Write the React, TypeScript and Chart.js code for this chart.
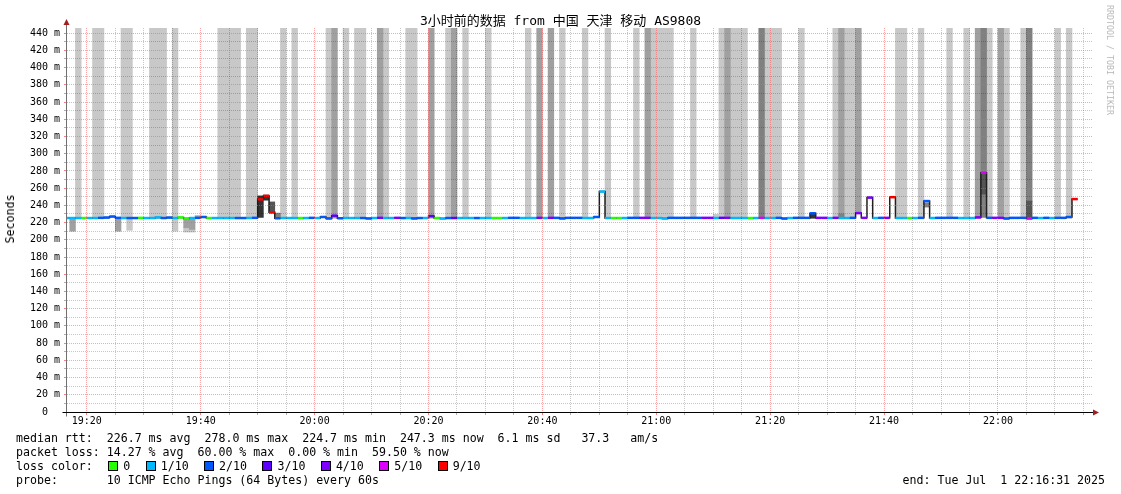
import React, { useEffect, useRef } from 'react';
import { Chart, registerables } from 'chart.js';

Chart.register(...registerables);

const FONT = "'DejaVu Sans Mono', 'Noto Sans CJK SC', monospace";

// ---------- text ----------
const titleText = '3小时前的数据 from 中国 天津 移动 AS9808';
const yAxisTitle = 'Seconds';
const sideNote = 'RRDTOOL / TOBI OETIKER';
const statsLines = [
  'median rtt:  226.7 ms avg  278.0 ms max  224.7 ms min  247.3 ms now  6.1 ms sd   37.3   am/s',
  'packet loss: 14.27 % avg  60.00 % max  0.00 % min  59.50 % now',
];
const lossLegendTitle = 'loss color:  ';
const probeLine = 'probe:       10 ICMP Echo Pings (64 Bytes) every 60s';
const endLine = 'end: Tue Jul  1 22:16:31 2025';

// ---------- axes (minutes after 19:00) ----------
const axisStart = 16 + 31 / 60; // 19:16:31
const axisEnd = axisStart + 180; // 22:16:31
const xTickMinutes = [20, 25, 30, 35, 40, 45, 50, 55, 60, 65, 70, 75, 80, 85, 90, 95, 100, 105, 110, 115, 120, 125, 130, 135, 140, 145, 150, 155, 160, 165, 170, 175, 180, 185, 190, 195];
const yTickValues = [0, 10, 20, 30, 40, 50, 60, 70, 80, 90, 100, 110, 120, 130, 140, 150, 160, 170, 180, 190, 200, 210, 220, 230, 240, 250, 260, 270, 280, 290, 300, 310, 320, 330, 340, 350, 360, 370, 380, 390, 400, 410, 420, 430, 440];
const yMax = 446;

// ---------- median rtt per minute slot (slot 16 = 19:16) ----------
const firstSlot = 16;
const medianMs = [
  225.3, 225.3, 225.3, 225.3, 225.3, 225.3, 225.5, 225.8, 227.0, 225.5,
  225.3, 225.3, 225.3, 225.5, 225.3, 225.3, 226.0, 225.3, 225.8, 225.3,
  226.0, 224.7, 225.3, 225.5, 226.5, 225.3, 225.3, 225.3, 225.3, 225.3,
  225.3, 225.3, 225.3, 225.5, 247.0, 251.0, 232.0, 225.0, 225.3, 225.3,
  225.3, 225.3, 225.3, 225.5, 225.3, 226.5, 224.8, 228.0, 225.0, 225.3,
  225.3, 225.3, 225.3, 224.8, 225.3, 225.5, 225.3, 225.3, 225.5, 225.3,
  225.3, 224.8, 225.3, 225.3, 227.5, 225.3, 224.7, 225.3, 225.3, 225.3,
  225.3, 225.3, 225.3, 225.3, 225.3, 225.3, 225.3, 225.3, 225.5, 225.5,
  225.3, 225.3, 225.3, 225.5, 225.3, 225.5, 225.5, 224.8, 225.5, 225.5,
  225.5, 225.3, 225.3, 226.5, 256.0, 225.3, 225.3, 225.3, 225.3, 225.5,
  225.5, 225.5, 225.5, 225.3, 225.3, 224.7, 225.5, 225.5, 225.5, 225.5,
  225.5, 225.5, 225.5, 225.5, 225.3, 225.5, 225.5, 225.3, 225.3, 225.3,
  225.3, 225.3, 225.5, 225.3, 225.3, 225.5, 224.7, 225.3, 225.5, 225.5,
  225.5, 230.8, 225.5, 225.5, 225.3, 225.5, 225.3, 225.3, 225.5, 231.0,
  225.5, 249.0, 225.3, 225.5, 225.5, 249.5, 225.3, 225.3, 225.3, 225.3,
  225.5, 245.0, 225.3, 225.5, 225.5, 225.5, 225.5, 225.3, 225.3, 225.3,
  226.0, 278.0, 225.5, 225.5, 225.5, 224.7, 225.5, 225.5, 225.5, 224.7,
  225.5, 225.3, 225.5, 225.3, 225.5, 225.5, 226.5, 247.3,
];
// lost pings out of 10 for each slot
const lossTenths = [
  1, 1, 1, 0, 1, 1, 2, 2, 2, 2,
  1, 2, 2, 0, 1, 1, 1, 2, 2, 1,
  0, 0, 1, 2, 2, 0, 1, 1, 1, 1,
  2, 2, 1, 2, 9, 9, 9, 2, 1, 1,
  1, 0, 1, 2, 1, 2, 2, 3, 2, 1,
  1, 1, 2, 2, 1, 4, 1, 1, 4, 2,
  1, 2, 2, 1, 3, 0, 1, 2, 3, 1,
  1, 1, 2, 1, 1, 0, 0, 1, 2, 2,
  1, 1, 1, 4, 1, 4, 2, 2, 2, 2,
  2, 1, 1, 2, 1, 1, 0, 0, 1, 2,
  2, 4, 4, 1, 1, 1, 2, 2, 2, 2,
  2, 2, 4, 4, 1, 3, 4, 1, 1, 1,
  0, 1, 5, 1, 1, 2, 2, 1, 2, 2,
  2, 2, 4, 4, 1, 4, 1, 1, 2, 4,
  4, 4, 1, 2, 4, 9, 1, 1, 0, 1,
  2, 2, 1, 2, 2, 2, 2, 1, 1, 1,
  4, 5, 2, 4, 4, 2, 2, 2, 2, 5,
  2, 1, 2, 1, 2, 2, 2, 9,
];

// ---------- smoke ----------
// tall smoke: pings beyond the top of the graph
const smokeCeiling = 460;
const tallSmokeSlots = [18, 21, 22, 26, 27, 31, 32, 33, 35, 43, 44, 45, 46, 48, 49, 54, 56, 62, 63, 65, 67, 68, 71, 72, 76, 77, 80, 83, 84, 86, 90, 97, 99, 101, 103, 107, 111, 116, 118, 119, 120, 121, 122, 126, 131, 132, 133, 134, 135, 138, 139, 140, 141, 145, 151, 152, 153, 154, 155, 162, 163, 166, 171, 174, 176, 177, 178, 180, 181, 184, 185, 190, 192];
const tallSmokeFrom = [225, 225, 225, 225, 225, 225, 225, 225, 225, 225, 225, 225, 225, 225, 225, 225, 225, 225, 225, 225, 225, 225, 225, 225, 225, 225, 225, 225, 225, 225, 225, 225, 225, 225, 225, 225, 225, 225, 225, 225, 225, 225, 225, 225, 225, 225, 225, 225, 225, 225, 225, 225, 225, 225, 225, 230, 225, 225, 231, 225, 225, 225, 225, 225, 226, 278, 225, 225, 225, 225, 245, 225, 225];
const tallSmokeShade = [1, 1, 1, 1, 1, 1, 1, 1, 1, 1, 1, 1, 1, 1, 1, 1, 1, 1, 2, 1, 1, 1, 2, 1, 1, 1, 2, 1, 2, 1, 1, 1, 2, 2, 1, 1, 1, 1, 2, 1, 1, 1, 1, 1, 1, 2, 1, 1, 1, 3, 1, 1, 1, 1, 1, 2, 1, 1, 2, 1, 1, 1, 1, 1, 2, 3, 1, 2, 1, 1, 3, 1, 1];
// band smoke: pings spread around the median
const bandSmokeSlots = [17, 25, 27, 35, 37, 37, 38, 38, 39, 50, 51, 52, 53, 130, 147, 152, 167, 177, 177, 185];
const bandSmokeLow = [210, 210, 211, 210, 209, 214, 209, 212, 225, 226, 246, 231, 225, 225, 225, 225, 238, 226, 253, 226];
const bandSmokeHigh = [225, 225, 225, 225, 214, 225, 212, 225, 228, 251, 252, 244, 231, 229.5, 230, 230, 243, 253, 278, 245];
const bandSmokeShade = [2, 2, 1, 1, 1, 2, 1, 2, 2, 5, 5, 4, 3, 1, 5, 3, 3, 3, 4, 4];

const shadeColors = ['', '#c8c8c8', '#a0a0a0', '#808080', '#555555', '#333333'];

// ---------- loss colours ----------
const lossLevels = [0, 1, 2, 3, 4, 5, 9];
const lossLabels = ['0', '1/10', '2/10', '3/10', '4/10', '5/10', '9/10'];
const lossPalette = ['#26ff00', '#00b8ff', '#0059ff', '#5e00ff', '#7e00ff', '#dd00ff', '#ff0000'];
const lossColorOf = (l: number) => lossPalette[lossLevels.indexOf(l)] || '#ff0000';

function hhmm(v: number) {
  const h = 19 + Math.floor(v / 60);
  const m = v % 60;
  return `${h}:${String(m).padStart(2, '0')}`;
}

const axisPlugin = {
  id: 'rrdAxes',
  afterDraw(chart: any) {
    const { ctx, chartArea: a } = chart;
    const x0 = Math.round(a.left) - 0.5;
    const y0 = Math.round(a.bottom) + 0.5;
    ctx.save();
    ctx.lineWidth = 1;
    ctx.strokeStyle = '#707070';
    ctx.beginPath();
    ctx.moveTo(x0, y0 + 4);
    ctx.lineTo(x0, a.top - 4);
    ctx.stroke();
    ctx.strokeStyle = '#000000';
    ctx.beginPath();
    ctx.moveTo(x0 - 4, y0);
    ctx.lineTo(a.right + 1, y0);
    ctx.stroke();
    ctx.fillStyle = '#a02020';
    ctx.beginPath();
    ctx.moveTo(x0, a.top - 9);
    ctx.lineTo(x0 - 3, a.top - 3);
    ctx.lineTo(x0 + 3, a.top - 3);
    ctx.closePath();
    ctx.fill();
    ctx.beginPath();
    ctx.moveTo(a.right + 7, y0);
    ctx.lineTo(a.right + 1, y0 - 3);
    ctx.lineTo(a.right + 1, y0 + 3);
    ctx.closePath();
    ctx.fill();
    ctx.restore();
  },
};

function buildConfig(): any {
  const lastSlot = firstSlot + medianMs.length;
  const stepLine = medianMs.map((v, i) => ({ x: firstSlot + i, y: v }));
  stepLine.push({ x: lastSlot, y: medianMs[medianMs.length - 1] });

  const colorSegs: any[] = [];
  medianMs.forEach((v, i) => {
    const s = firstSlot + i;
    colorSegs.push({ x: s, y: v }, { x: s + 1, y: v }, { x: s + 1, y: null });
  });

  const smokeSets = [1, 2, 3, 4, 5].map((shade) => {
    const pts: any[] = [];
    tallSmokeSlots.forEach((s, i) => {
      if (tallSmokeShade[i] === shade) pts.push({ x: s + 0.5, y: [tallSmokeFrom[i], smokeCeiling] });
    });
    bandSmokeSlots.forEach((s, i) => {
      if (bandSmokeShade[i] === shade) pts.push({ x: s + 0.5, y: [bandSmokeLow[i], bandSmokeHigh[i]] });
    });
    return {
      type: 'bar',
      data: pts,
      backgroundColor: shadeColors[shade],
      borderWidth: 0,
      barPercentage: 1,
      categoryPercentage: 1,
      grouped: false,
      order: 10 - shade,
    };
  });

  const gridColor = (major: boolean) => (major ? 'rgba(255,90,90,0.55)' : 'rgba(0,0,0,0.22)');

  return {
    type: 'bar',
    data: {
      datasets: [
        ...smokeSets,
        {
          type: 'line',
          data: stepLine,
          stepped: true,
          borderColor: '#202020',
          borderWidth: 1.5,
          pointRadius: 0,
          fill: false,
          order: 1,
        },
        {
          type: 'line',
          data: colorSegs,
          borderColor: '#000',
          borderWidth: 2.5,
          borderCapStyle: 'butt',
          pointRadius: 0,
          spanGaps: false,
          fill: false,
          order: 0,
          segment: {
            borderColor: (c: any) => lossColorOf(lossTenths[Math.floor(c.p0DataIndex / 3)]),
          },
        },
      ],
    },
    options: {
      responsive: false,
      animation: false,
      events: [],
      layout: { padding: { left: 0, right: 29, top: 28, bottom: 0 } },
      plugins: { legend: { display: false }, title: { display: false }, tooltip: { enabled: false } },
      scales: {
        x: {
          type: 'linear',
          min: axisStart,
          max: axisEnd,
          offset: false,
          afterBuildTicks: (s: any) => {
            s.ticks = xTickMinutes.map((v) => ({ value: v }));
          },
          afterFit: (s: any) => {
            s.height = 82;
          },
          grid: {
            offset: false,
            z: 1,
            drawTicks: true,
            tickLength: 3,
            lineWidth: 1,
            color: (c: any) => gridColor(c.tick && c.tick.value % 20 === 0),
            tickColor: (c: any) => (c.tick && c.tick.value % 20 === 0 ? '#ff8080' : '#b0b0b0'),
          },
          border: { display: false, dash: [1, 1] },
          ticks: {
            autoSkip: false,
            maxRotation: 0,
            minRotation: 0,
            padding: 0,
            color: '#000',
            font: { family: FONT, size: 10 },
            callback: (v: number) => (v % 20 === 0 ? hhmm(v) : ''),
          },
        },
        y: {
          type: 'linear',
          min: 0,
          max: yMax,
          afterBuildTicks: (s: any) => {
            s.ticks = yTickValues.map((v) => ({ value: v }));
          },
          afterFit: (s: any) => {
            s.width = 67;
          },
          grid: {
            z: 1,
            drawTicks: true,
            tickLength: 3,
            lineWidth: 1,
            color: (c: any) =>
              c.tick && c.tick.value === 0 ? 'rgba(0,0,0,0)' : gridColor(c.tick && c.tick.value % 20 === 0),
            tickColor: (c: any) => (c.tick && c.tick.value % 20 === 0 ? '#ff8080' : '#b0b0b0'),
          },
          border: { display: false, dash: [1, 1] },
          ticks: {
            autoSkip: false,
            padding: 4,
            color: '#000',
            font: { family: FONT, size: 10 },
            callback: (v: number) => (v % 20 !== 0 ? '' : v === 0 ? '0  ' : `${v} m`),
          },
        },
      },
    },
    plugins: [axisPlugin],
  };
}

export default function App() {
  const canvasRef = useRef<HTMLCanvasElement>(null);

  useEffect(() => {
    if (!canvasRef.current) return;
    const chart = new Chart(canvasRef.current, buildConfig());
    return () => chart.destroy();
  }, []);

  const text: any = { position: 'absolute', whiteSpace: 'pre', color: '#000', fontFamily: FONT };

  return (
    <div style={{ position: 'absolute', left: 0, top: 0, width: 1121, height: 494, background: '#fff', overflow: 'hidden' }}>
      <canvas ref={canvasRef} width={1121} height={494} style={{ position: 'absolute', left: 0, top: 0 }} />
      <div style={{ ...text, left: 0, top: 13, width: 1121, textAlign: 'center', fontSize: 13, lineHeight: '16px' }}>
        {titleText}
      </div>
      <div
        style={{
          ...text,
          left: 10,
          top: 219,
          fontSize: 11.6,
          lineHeight: '14px',
          transform: 'translate(-50%, -50%) rotate(-90deg)',
        }}
      >
        {yAxisTitle}
      </div>
      <div
        style={{
          ...text,
          left: 1110,
          top: 60,
          fontSize: 8.3,
          lineHeight: '10px',
          color: '#b8b8b8',
          transform: 'translate(-50%, -50%) rotate(90deg)',
        }}
      >
        {sideNote}
      </div>
      <div style={{ ...text, left: 16, top: 431, fontSize: 11.6, lineHeight: '14px' }}>
        {statsLines.map((l, i) => (
          <div key={i}>{l}</div>
        ))}
        <div>
          {lossLegendTitle}
          {lossLevels.map((lv, i) => (
            <span key={lv}>
              <span
                style={{
                  display: 'inline-block',
                  width: 8,
                  height: 8,
                  border: '1px solid #000',
                  background: lossColorOf(lv),
                  margin: '0 5px 0 1.5px',
                  verticalAlign: '-1px',
                }}
              />
              {lossLabels[i]}
              {i < lossLevels.length - 1 ? '  ' : ''}
            </span>
          ))}
        </div>
        <div>{probeLine}</div>
      </div>
      <div style={{ ...text, right: 16, top: 473, fontSize: 11.6, lineHeight: '14px' }}>{endLine}</div>
    </div>
  );
}
